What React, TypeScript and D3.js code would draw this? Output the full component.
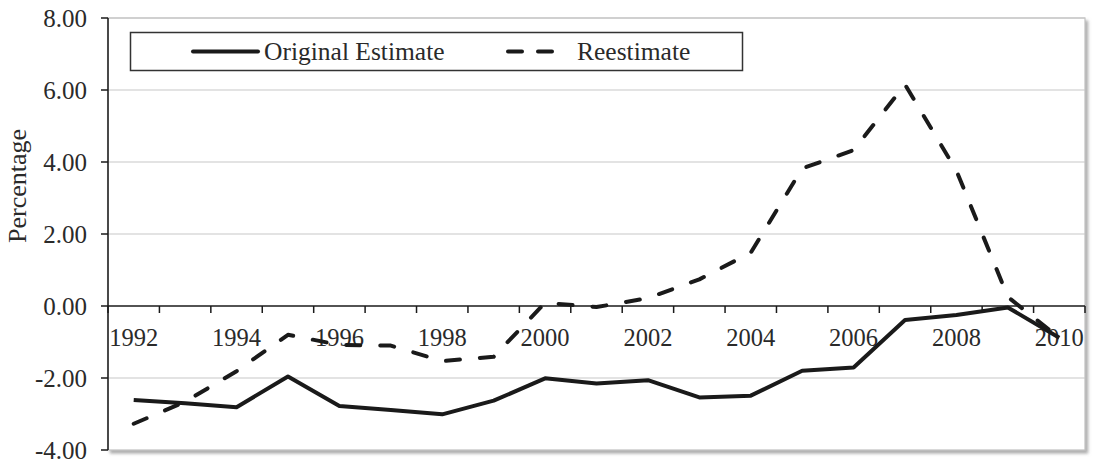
import React from "react";
import * as d3 from "d3";

const years = [1992,1993,1994,1995,1996,1997,1998,1999,2000,2001,2002,2003,2004,2005,2006,2007,2008,2009,2010];
const originalEstimate = [-2.61,-2.70,-2.81,-1.96,-2.78,-2.89,-3.01,-2.63,-2.01,-2.15,-2.06,-2.54,-2.49,-1.80,-1.71,-0.39,-0.25,-0.04,-0.88];
const reestimate = [-3.27,-2.66,-1.81,-0.80,-1.08,-1.10,-1.53,-1.41,0.09,-0.03,0.22,0.74,1.48,3.82,4.33,6.15,3.76,0.25,-0.88];
const yTicks = [-4,-2,0,2,4,6,8];
const xLabelYears = [1992,1994,1996,1998,2000,2002,2004,2006,2008,2010];
const seriesNames = ["Original Estimate", "Reestimate"];

export default function App() {
  const W = 1096, H = 460;
  const left = 108, right = 1085, top = 18, bottom = 450;
  const x = d3.scaleBand<number>().domain(years).range([left, right]).padding(0);
  const y = d3.scaleLinear().domain([-4, 8]).range([bottom, top]);
  const cx = (yr: number) => (x(yr) as number) + x.bandwidth() / 2;
  const line = d3.line<number>().x((_, i) => cx(years[i])).y((v) => y(v));
  const font = "'Liberation Serif', 'Times New Roman', serif";
  const txt = "#2a2a2a";
  const ink = "#1a1a1a";
  const boundaries = years.map((yr) => x(yr) as number).concat([right]);
  return (
    <svg width={W} height={H} style={{ position: "absolute", left: 0, top: 0, background: "#fff" }} fontFamily={font}>
      <defs>
        <filter id="sh" x="-5%" y="-5%" width="110%" height="115%">
          <feDropShadow dx="2.5" dy="3" stdDeviation="1.5" floodColor="#777" floodOpacity="0.6" />
        </filter>
      </defs>
      <rect x={left} y={top} width={right - left} height={bottom - top} fill="#fff" stroke="#c0c0c0" strokeWidth={1.2} filter="url(#sh)" />
      {yTicks.filter((t) => t !== 0 && t !== -4).map((t) => (
        <line key={t} x1={left} x2={right} y1={y(t)} y2={y(t)} stroke="#c8c8c8" strokeWidth={1.2} />
      ))}
      {/* y axis */}
      <line x1={left} x2={left} y1={top} y2={bottom} stroke={ink} strokeWidth={1.5} />
      {yTicks.map((t) => (
        <g key={t}>
          <line x1={left - 7} x2={left} y1={y(t)} y2={y(t)} stroke={ink} strokeWidth={1.5} />
          <text x={87} y={y(t)} dy="0.35em" textAnchor="end" fontSize={25} fill={txt}>{t.toFixed(2)}</text>
        </g>
      ))}
      {/* x axis at zero */}
      <line x1={left} x2={right} y1={y(0)} y2={y(0)} stroke={ink} strokeWidth={1.5} />
      {boundaries.map((bx, i) => (
        <line key={i} x1={bx} x2={bx} y1={y(0)} y2={y(0) + 7} stroke={ink} strokeWidth={1.5} />
      ))}
      {xLabelYears.map((yr) => (
        <text key={yr} x={cx(yr)} y={346} textAnchor="middle" fontSize={24.5} fill={txt}>{yr}</text>
      ))}
      <text transform={`translate(26,186) rotate(-90)`} textAnchor="middle" fontSize={26} fill={txt}>Percentage</text>
      {/* series */}
      <path d={line(originalEstimate) || ""} fill="none" stroke={ink} strokeWidth={4} strokeLinejoin="round" />
      <path d={line(reestimate) || ""} fill="none" stroke={ink} strokeWidth={4} strokeDasharray="14 20" strokeLinecap="round" strokeLinejoin="round" />
      {/* legend */}
      <rect x={130.5} y={32.5} width={612} height={38} fill="#fff" stroke="#333" strokeWidth={1.5} />
      <line x1={193} x2={258} y1={51.5} y2={51.5} stroke={ink} strokeWidth={4} strokeLinecap="round" />
      <text x={264} y={51.5} dy="0.35em" fontSize={25.5} fill={txt}>{seriesNames[0]}</text>
      <line x1={508} x2={556} y1={51.5} y2={51.5} stroke={ink} strokeWidth={4} strokeDasharray="14 16" strokeLinecap="round" />
      <text x={577} y={51.5} dy="0.35em" fontSize={25.5} fill={txt}>{seriesNames[1]}</text>
    </svg>
  );
}
